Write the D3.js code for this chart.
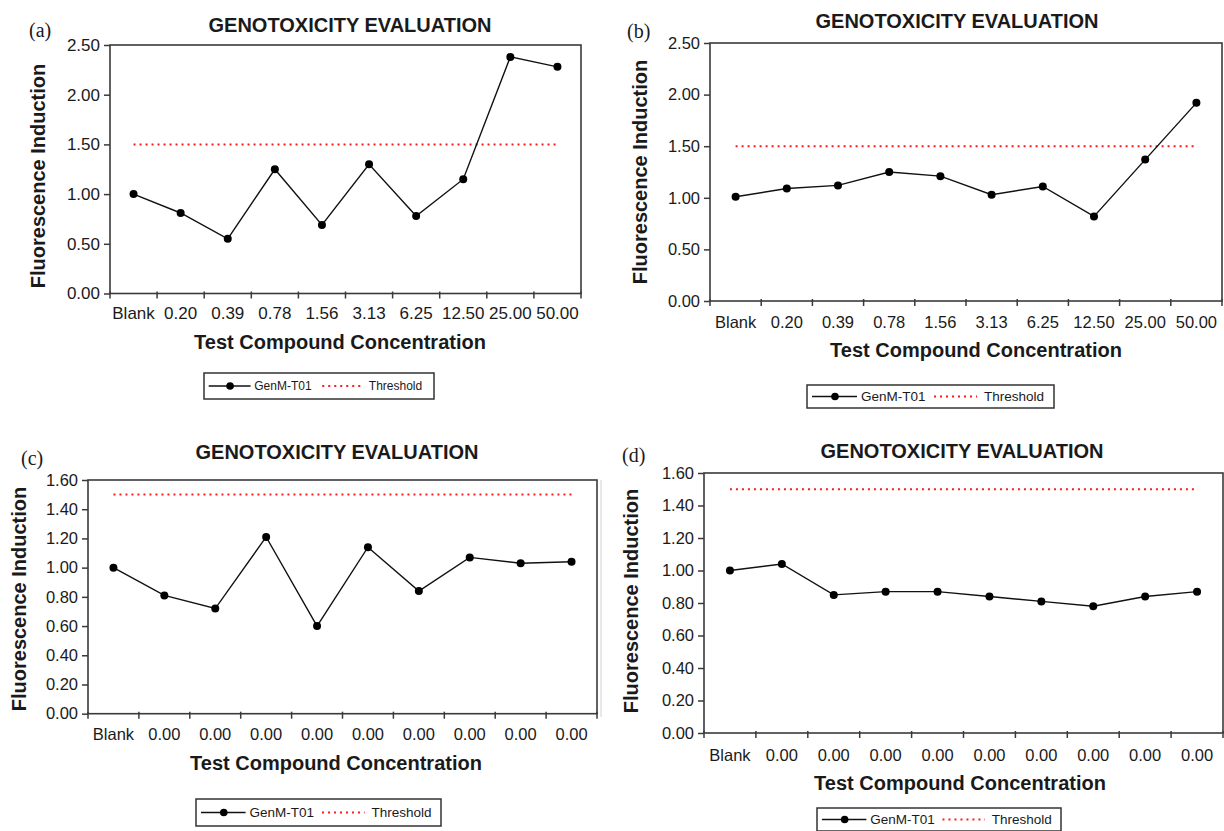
<!DOCTYPE html>
<html>
<head>
<meta charset="utf-8">
<script src="https://cdn.jsdelivr.net/npm/d3@7"></script>
<style>
  html, body { margin: 0; padding: 0; background: #fff; }
  svg { display: block; }
  text { font-family: "Liberation Sans", Arial, sans-serif; fill: #1a1a1a; }
</style>
</head>
<body>
<svg id="chart" width="1224" height="831"></svg>
<script>
// ---------------- DATA ----------------
const categoriesAB = ["Blank", "0.20", "0.39", "0.78", "1.56", "3.13", "6.25", "12.50", "25.00", "50.00"];
const categoriesCD = ["Blank", "0.00", "0.00", "0.00", "0.00", "0.00", "0.00", "0.00", "0.00", "0.00"];
const valuesA = [1.00, 0.81, 0.55, 1.25, 0.69, 1.30, 0.78, 1.15, 2.38, 2.28];
const valuesB = [1.01, 1.09, 1.12, 1.25, 1.21, 1.03, 1.11, 0.82, 1.37, 1.92];
const valuesC = [1.00, 0.81, 0.72, 1.21, 0.60, 1.14, 0.84, 1.07, 1.03, 1.04];
const valuesD = [1.00, 1.04, 0.85, 0.87, 0.87, 0.84, 0.81, 0.78, 0.84, 0.87];
const thresholdValue = 1.5;
const yTicksAB = [0, 0.5, 1.0, 1.5, 2.0, 2.5];
const yTicksCD = [0, 0.2, 0.4, 0.6, 0.8, 1.0, 1.2, 1.4, 1.6];
const chartTitle = "GENOTOXICITY EVALUATION";
const xAxisTitle = "Test Compound Concentration";
const yAxisTitle = "Fluorescence Induction";
const seriesName = "GenM-T01";
const thresholdName = "Threshold";

// ---------------- LAYOUT ----------------
const panels = [
  { tag: "(a)", cats: categoriesAB, vals: valuesA, yMax: 2.5, yTicks: yTicksAB,
    left: 110, right: 581, top: 45, bottom: 293.5, tickFs: 17,
    titleX: 350, titleY: 25, tagX: 29, tagY: 37, yTitleX: 38, yTitleY: 176,
    xLabelY: 313, xTitleX: 340, xTitleY: 342,
    legend: { x: 204, y: 373, w: 230, h: 26, fs: 12 } },
  { tag: "(b)", cats: categoriesAB, vals: valuesB, yMax: 2.5, yTicks: yTicksAB,
    left: 710, right: 1222, top: 43, bottom: 301, tickFs: 16.5,
    titleX: 957, titleY: 21, tagX: 627, tagY: 38, yTitleX: 640, yTitleY: 172,
    xLabelY: 322, xTitleX: 976, xTitleY: 350,
    legend: { x: 807, y: 385, w: 247, h: 23, fs: 13.5 } },
  { tag: "(c)", cats: categoriesCD, vals: valuesC, yMax: 1.6, yTicks: yTicksCD,
    left: 88, right: 597, top: 480, bottom: 713.7, tickFs: 16.5,
    titleX: 337, titleY: 452, tagX: 21, tagY: 465, yTitleX: 19, yTitleY: 599,
    xLabelY: 734, xTitleX: 336, xTitleY: 763,
    legend: { x: 196, y: 799, w: 245, h: 27, fs: 13.5 } },
  { tag: "(d)", cats: categoriesCD, vals: valuesD, yMax: 1.6, yTicks: yTicksCD,
    left: 704, right: 1223, top: 473, bottom: 733, tickFs: 16.5,
    titleX: 962, titleY: 451, tagX: 622, tagY: 462, yTitleX: 631, yTitleY: 601,
    xLabelY: 755, xTitleX: 960, xTitleY: 783,
    legend: { x: 817, y: 808, w: 244, h: 23, fs: 13.5 } }
];

const svg = d3.select("#chart");

// faint scan artifact line between panels c and d
svg.append("line").attr("x1", 601).attr("x2", 601).attr("y1", 480).attr("y2", 717)
  .attr("stroke", "#d0d0d0").attr("stroke-width", 1);

panels.forEach(p => {
  const g = svg.append("g");
  const idx = d3.range(p.vals.length);
  const x = d3.scaleBand().domain(idx).range([p.left, p.right]).padding(0);
  const bw = x.bandwidth();
  const cx = i => x(i) + bw / 2;
  const y = d3.scaleLinear().domain([0, p.yMax]).range([p.bottom, p.top]);

  // frame
  g.append("rect").attr("x", p.left).attr("y", p.top)
    .attr("width", p.right - p.left).attr("height", p.bottom - p.top)
    .attr("fill", "none").attr("stroke", "#3a3a3a").attr("stroke-width", 1.6);

  // y axis
  const yAxis = d3.axisLeft(y).tickValues(p.yTicks).tickFormat(d3.format(".2f"))
    .tickSize(6).tickPadding(4);
  const ya = g.append("g").attr("transform", `translate(${p.left},0)`).call(yAxis);
  ya.select(".domain").remove();
  ya.selectAll("line").attr("stroke", "#3a3a3a").attr("stroke-width", 1.5);
  ya.selectAll("text").attr("font-size", p.tickFs).style("font-family", "'Liberation Sans', Arial, sans-serif").attr("fill", "#1a1a1a");

  // x ticks at band boundaries
  const bounds = d3.range(p.vals.length + 1).map(i => p.left + i * bw);
  g.selectAll(".xt").data(bounds).join("line")
    .attr("x1", d => d).attr("x2", d => d)
    .attr("y1", p.bottom - 2).attr("y2", p.bottom + 5)
    .attr("stroke", "#3a3a3a").attr("stroke-width", 1.5);

  // x labels
  const xAxis = d3.axisBottom(x).tickSize(0).tickFormat(i => p.cats[i]);
  const xa = g.append("g").attr("transform", `translate(0,${p.bottom})`).call(xAxis);
  xa.select(".domain").remove();
  xa.selectAll("text").attr("dy", null)
    .attr("y", p.xLabelY - p.bottom + 0.358 * p.tickFs)
    .attr("font-size", p.tickFs).style("font-family", "'Liberation Sans', Arial, sans-serif").attr("fill", "#1a1a1a");

  // threshold
  g.append("line")
    .attr("x1", cx(0)).attr("x2", cx(p.vals.length - 1))
    .attr("y1", y(thresholdValue)).attr("y2", y(thresholdValue))
    .attr("stroke", "#ff1a1a").attr("stroke-width", 2).attr("stroke-dasharray", "2,4");

  // series line
  const line = d3.line().x((d, i) => cx(i)).y(d => y(d));
  g.append("path").datum(p.vals).attr("d", line)
    .attr("fill", "none").attr("stroke", "#111").attr("stroke-width", 1.4);
  g.selectAll(".pt").data(p.vals).join("circle")
    .attr("cx", (d, i) => cx(i)).attr("cy", d => y(d)).attr("r", 4)
    .attr("fill", "#000");

  // titles
  g.append("text").attr("x", p.titleX).attr("y", p.titleY + 0.358 * 20)
    .attr("text-anchor", "middle").attr("font-size", 20).attr("font-weight", "bold")
    .text(chartTitle);
  g.append("text").attr("x", p.tagX).attr("y", p.tagY)
    .style("font-family", "'Liberation Serif', 'Times New Roman', serif")
    .attr("font-size", 20).text(p.tag);
  g.append("text").attr("x", p.xTitleX).attr("y", p.xTitleY + 0.358 * 20)
    .attr("text-anchor", "middle").attr("font-size", 20).attr("font-weight", "bold")
    .text(xAxisTitle);
  g.append("text")
    .attr("transform", `translate(${p.yTitleX + 0.358 * 20},${p.yTitleY}) rotate(-90)`)
    .attr("text-anchor", "middle").attr("font-size", 20).attr("font-weight", "bold")
    .text(yAxisTitle);

  // legend
  const L = p.legend, s = L.w / 247, my = L.y + L.h / 2;
  const lg = g.append("g");
  lg.append("rect").attr("x", L.x).attr("y", L.y).attr("width", L.w).attr("height", L.h)
    .attr("fill", "#fff").attr("stroke", "#333").attr("stroke-width", 1.5);
  lg.append("line").attr("x1", L.x + 5 * s).attr("x2", L.x + 50 * s)
    .attr("y1", my).attr("y2", my).attr("stroke", "#111").attr("stroke-width", 1.4);
  lg.append("circle").attr("cx", L.x + 28 * s).attr("cy", my).attr("r", 3.8).attr("fill", "#000");
  lg.append("text").attr("x", L.x + 54 * s).attr("y", my + 0.36 * L.fs)
    .attr("font-size", L.fs).text(seriesName);
  lg.append("line").attr("x1", L.x + 127 * s).attr("x2", L.x + 170 * s)
    .attr("y1", my).attr("y2", my).attr("stroke", "#ff1a1a").attr("stroke-width", 2)
    .attr("stroke-dasharray", "2,4");
  lg.append("text").attr("x", L.x + 177 * s).attr("y", my + 0.36 * L.fs)
    .attr("font-size", L.fs).text(thresholdName);
});
</script>
</body>
</html>
